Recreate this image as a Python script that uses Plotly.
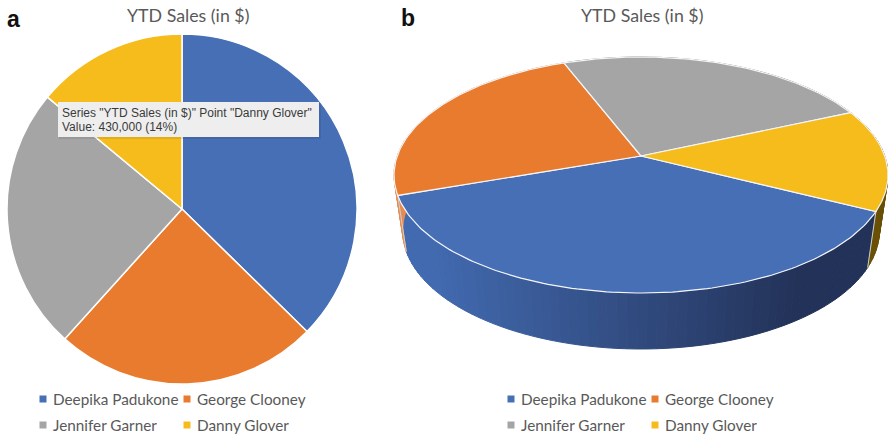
import math
import plotly.graph_objects as go

names = ["Deepika Padukone", "George Clooney", "Jennifer Garner", "Danny Glover"]
sales = [1150000, 750000, 750000, 430000]
colors = ["#466fb6", "#e97b2e", "#a5a5a5", "#f6bc1c"]
title_text = "YTD Sales (in $)"
tooltip_lines = ['Series "YTD Sales (in $)" Point "Danny Glover"', "Value: 430,000 (14%)"]

W, H = 888, 438
GREY = "#595959"

fig = go.Figure()

# ---- panel a: flat pie
fig.add_trace(go.Pie(
    labels=names, values=sales, sort=False, direction="clockwise", rotation=0,
    marker=dict(colors=colors, line=dict(color="white", width=1.5)),
    textinfo="none", hoverinfo="label+value+percent", showlegend=False,
    domain=dict(x=[7 / W, 357 / W], y=[(H - 384) / H, (H - 34) / H]),
))

# ---- panel b: perspective pie built from the same values
CX, CY, RX, RY = 641.0, 175.0, 247.0, 118.0
C = 19.0 / 118.0       # how far the pie's centre appears above the ellipse centre
DEPTH, SHRINK = 56.0, 0.965
START = 116.6          # degrees clockwise from the back of the pie


def top(deg):
    t = math.radians(deg)
    x, y = math.sin(t), math.cos(t)
    d = 1 + C * y
    return CX + RX * x * math.sqrt(1 - C * C) / d, CY - RY * (y + C) / d


def bottom(deg):
    x, y = top(deg)
    return CX + (x - CX) * SHRINK, y + DEPTH


def mix(a, b, f):
    f = max(0.0, min(1.0, f))
    return "rgb(%d,%d,%d)" % tuple(round(a[i] + (b[i] - a[i]) * f) for i in range(3))


wall_ramps = [
    ((66, 106, 176), (35, 50, 88)),
    ((232, 140, 80), (232, 140, 80)),
    ((110, 110, 110), (110, 110, 110)),
    ((125, 95, 8), (105, 80, 5)),
]

total = sum(sales)
edges = [START]
for v in sales:
    edges.append(edges[-1] + 360.0 * v / total)

# walls
for i in range(len(sales)):
    a0, a1 = edges[i], edges[i + 1]
    n = max(2, int((a1 - a0) / 2))
    for k in range(n):
        t0 = a0 + (a1 - a0) * k / n
        t1 = a0 + (a1 - a0) * (k + 1) / n
        p = [top(t0), top(t1), bottom(t1), bottom(t0), top(t0)]
        xm = (p[0][0] + p[1][0]) / 2
        col = mix(wall_ramps[i][0], wall_ramps[i][1], (xm - 430) / 370)
        fig.add_trace(go.Scatter(
            x=[q[0] for q in p], y=[q[1] for q in p], mode="lines", fill="toself",
            fillcolor=col, line=dict(color=col, width=1), hoverinfo="skip", showlegend=False,
        ))

# light vertical edges where the front wall meets its neighbours
for deg in (edges[0], edges[1]):
    p, q = top(deg), bottom(deg)
    fig.add_trace(go.Scatter(
        x=[p[0], q[0]], y=[p[1], q[1]], mode="lines",
        line=dict(color="#c8d0dc", width=1), hoverinfo="skip", showlegend=False,
    ))

# top faces
apex = (CX, CY - RY * C)
for i, name in enumerate(names):
    a0, a1 = edges[i], edges[i + 1]
    n = max(4, int(a1 - a0))
    pts = [top(a0 + (a1 - a0) * k / n) for k in range(n + 1)]
    xs = [apex[0]] + [q[0] for q in pts] + [apex[0]]
    ys = [apex[1]] + [q[1] for q in pts] + [apex[1]]
    fig.add_trace(go.Scatter(
        x=xs, y=ys, mode="lines", fill="toself", fillcolor=colors[i],
        line=dict(color="#f4f6fa", width=1.2), name=name,
        hoverinfo="name", showlegend=False,
    ))

# ---- tooltip
shapes = [
    dict(type="rect", xref="x", yref="y", x0=59, y0=103, x1=321, y1=139,
         fillcolor="rgba(0,0,0,0.08)", line=dict(width=0), layer="above"),
    dict(type="rect", xref="x", yref="y", x0=58, y0=102, x1=319, y1=137,
         fillcolor="#eeeeee", line=dict(width=0), layer="above"),
]

annotations = []


def label(x, y, text, size, color, family, anchor="left", bold=False):
    annotations.append(dict(
        x=x, y=y, xref="x", yref="y", text="<b>%s</b>" % text if bold else text,
        showarrow=False, xanchor=anchor, yanchor="middle", align="left",
        font=dict(size=size, color=color, family=family), borderpad=0, borderwidth=0,
    ))


label(62, 113, tooltip_lines[0], 12, "#3a3a3a", "Liberation Sans")
label(62, 127, tooltip_lines[1], 12, "#3a3a3a", "Liberation Sans")
label(187.5, 15, title_text, 17.8, GREY, "Lato", anchor="center")
label(641.5, 15, title_text, 17.8, GREY, "Lato", anchor="center")
label(7, 19, "a", 23, "#111111", "Liberation Sans", bold=True)
label(401, 18, "b", 23, "#111111", "Liberation Sans", bold=True)

# ---- legends (two panels, 2 x 2)
legend_slots = [
    [(43, 399), (187, 399), (43, 425), (187, 425)],
    [(511, 399), (655, 399), (511, 425), (655, 425)],
]
for slots in legend_slots:
    fig.add_trace(go.Scatter(
        x=[s[0] for s in slots], y=[s[1] for s in slots], mode="markers",
        marker=dict(symbol="square", size=7, color=colors, line=dict(width=0)),
        hoverinfo="skip", showlegend=False,
    ))
    for (x, y), name in zip(slots, names):
        label(x + 9.5, y, name, 15.3, GREY, "Lato")

fig.update_layout(
    width=W, height=H, margin=dict(l=0, r=0, t=0, b=0),
    paper_bgcolor="white", plot_bgcolor="rgba(0,0,0,0)", showlegend=False,
    xaxis=dict(range=[0, W], visible=False, domain=[0, 1], fixedrange=True),
    yaxis=dict(range=[H, 0], visible=False, domain=[0, 1], fixedrange=True),
    shapes=shapes, annotations=annotations,
)

fig.write_html(
    "out.html",
    config=dict(displayModeBar=False),
    post_script="document.body.style.margin='0';document.documentElement.style.overflow='hidden';",
)
